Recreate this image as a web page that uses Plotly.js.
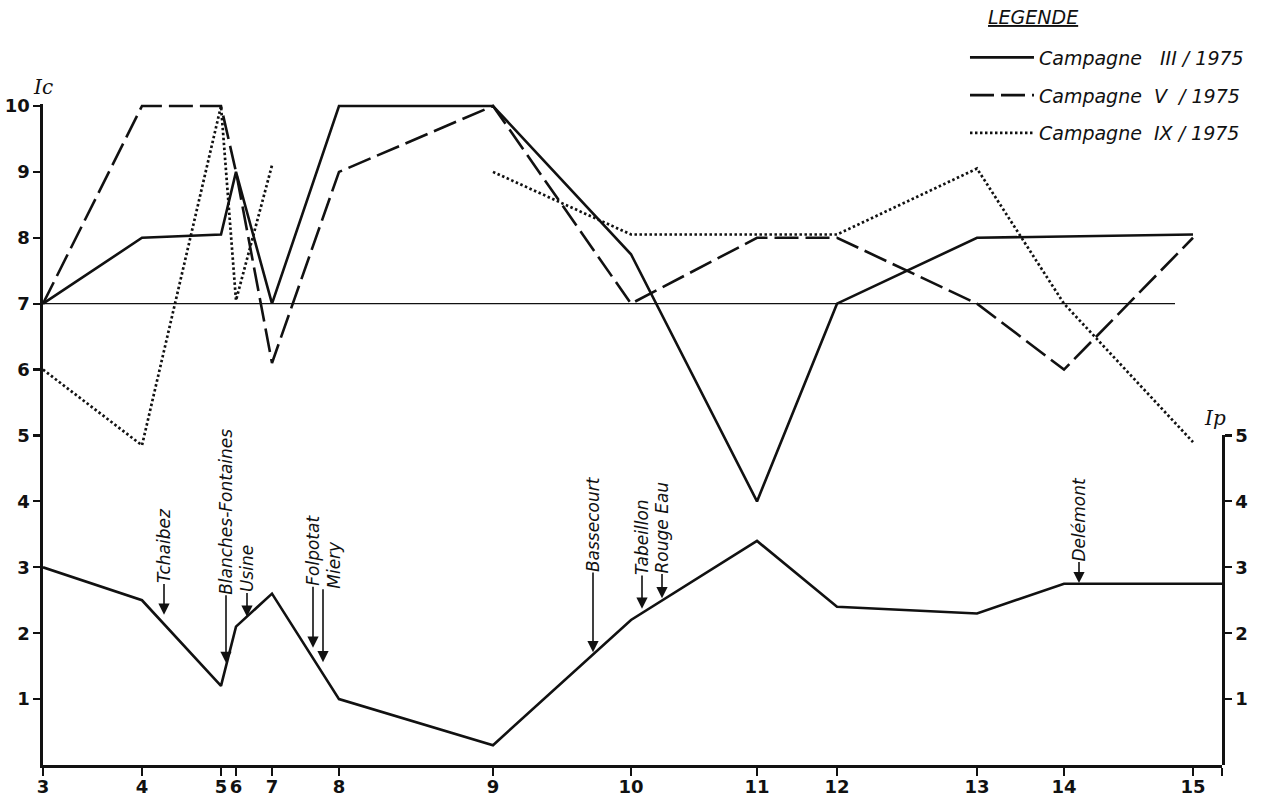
<!DOCTYPE html>
<html><head><meta charset="utf-8">
<script src="https://cdn.plot.ly/plotly-3.0.1.min.js"></script>
<style>html,body{margin:0;padding:0;background:#fff}#chart{width:1261px;height:803px}</style>
</head><body><div id="chart"></div>
<script>
// Stations along the river (label) and their position along the course
const stations = ['3','4','5','6','7','8','9','10','11','12','13','14','15'];
const stationDist = [0, 9.9, 17.8, 19.3, 22.9, 29.6, 45.0, 58.8, 71.4, 79.4, 93.4, 102.1, 115.0];
const axisEnd = 117.9;

// Ic values per campaign
const icIII = [7, 8, 8.05, 9.0, 7, 10, 10, 7.75, 4.0, 7.0, 8.0, 8.02, 8.05];
const icV   = [7, 10, 10, 9.0, 6.1, 9.0, 10, 7.0, 8.0, 8.0, 7.0, 6.0, 8.0];
const icIX  = [6.0, 4.85, 10, 7.05, 9.1, null, 9.0, 8.05, 8.05, 8.05, 9.05, 7.0, 4.9];

// Ip values
const ipValues = [3.0, 2.5, 1.2, 2.1, 2.6, 1.0, 0.3, 2.2, 3.4, 2.4, 2.3, 2.75, 2.75];

const seriesNames = ['Campagne&nbsp;&nbsp; III / 1975', 'Campagne&nbsp; V&nbsp; / 1975', 'Campagne&nbsp; IX / 1975'];

// Locality markers along the river
const siteNames = ['Tchaibez','Blanches-Fontaines','Usine','Folpotat','Miery','Bassecourt','Tabeillon','Rouge Eau','Delémont'];
const siteDist  = [12.1, 18.3, 20.4, 27.0, 28.0, 55.0, 59.9, 61.9, 103.6];
const siteIp    = [2.28, 1.55, 2.25, 1.78, 1.56, 1.71, 2.37, 2.53, 2.76];

const refLevel = 7;
const refLineEnd = 113.2;
const icTicks = [1,2,3,4,5,6,7,8,9,10];
const ipTicks = [1,2,3,4,5];

// ---- styling ----
const INK = '#111';
const arrowLen = [30, 66, 22, 60, 72, 79, 32, 23, 20];
const textLead = ['', '', '', '', '&nbsp;<br>', '', '', '', ''];
const tickFont = {family: 'DejaVu Sans', size: 18, weight: 'bold', color: INK};
const itFont = {family: 'DejaVu Sans', size: 17, style: 'italic', color: INK};

const measure = document.createElement('canvas').getContext('2d');
measure.font = 'italic 17px "DejaVu Sans"';

const traces = [
  {x: stationDist, y: icIII, name: seriesNames[0], legendgroup: 'a', mode: 'lines',
   line: {color: INK, width: 2.6}, connectgaps: false},
  {x: stationDist, y: icV, name: seriesNames[1], legendgroup: 'b', mode: 'lines',
   line: {color: INK, width: 2.6, dash: '24px,7px'}, connectgaps: false},
  {x: stationDist, y: icIX, name: seriesNames[2], legendgroup: 'c', mode: 'lines',
   line: {color: INK, width: 2.7, dash: '2.5px,2.5px'}, connectgaps: false},
  {x: stationDist.concat([axisEnd]), y: ipValues.concat([ipValues[ipValues.length-1]]),
   yaxis: 'y2', name: 'Ip', mode: 'lines', showlegend: false,
   line: {color: INK, width: 2.6}}
];

const annotations = siteNames.map((n, i) => {
  const w = measure.measureText(n).width;
  return {
    x: siteDist[i], y: siteIp[i], xref: 'x', yref: 'y2', text: textLead[i] + n, textangle: -90,
    showarrow: true, arrowhead: 2, arrowsize: 1.4, arrowwidth: 1.6, arrowcolor: INK,
    ax: 0, ay: -(arrowLen[i] + w / 2 + 2), borderpad: 0, font: itFont
  };
});
annotations.push({xref: 'paper', yref: 'paper', x: 0, y: 1, yshift: 17, xanchor: 'center', yanchor: 'middle',
  text: 'Ic', showarrow: false, font: {family: 'DejaVu Serif', size: 20, style: 'italic', color: INK}});
annotations.push({xref: 'paper', yref: 'paper', x: 1, y: 5.3/10.03, xshift: -7, yshift: -2, xanchor: 'center', yanchor: 'middle',
  text: 'Ip', showarrow: false, font: {family: 'DejaVu Serif', size: 20, style: 'italic', color: INK}});
annotations.push({xref: 'paper', yref: 'paper', x: 0.8, y: 1.131, xanchor: 'left', yanchor: 'middle',
  text: '<u>LEGENDE</u>', showarrow: false, font: {family: 'DejaVu Sans', size: 19, style: 'italic', color: INK}});

const layout = {
  width: 1261, height: 803,
  margin: {l: 43, r: 39, t: 104, b: 38, pad: 0},
  paper_bgcolor: '#fff', plot_bgcolor: 'rgba(0,0,0,0)',
  showlegend: true,
  legend: {x: 0.782, xanchor: 'left', y: 1.099, yanchor: 'top', bgcolor: 'rgba(0,0,0,0)',
    traceorder: 'grouped', tracegroupgap: 10, itemwidth: 64,
    font: {family: 'DejaVu Sans', size: 19, style: 'italic', color: INK}},
  xaxis: {range: [0, axisEnd], tickmode: 'array', tickvals: stationDist.concat([axisEnd]),
    ticktext: stations.concat(['']), tickangle: 0, ticks: 'outside', ticklen: 8, tickwidth: 2.2,
    tickcolor: INK, showline: true, linewidth: 2.6, linecolor: INK, showgrid: false, zeroline: false,
    tickfont: tickFont, ticklabelstandoff: -4, fixedrange: true},
  yaxis: {range: [0, 10.03], tickmode: 'array', tickvals: icTicks, ticks: 'outside', ticklen: 7,
    tickwidth: 2.2, tickcolor: INK, showline: true, linewidth: 2.6, linecolor: INK, showgrid: false,
    zeroline: false, tickfont: tickFont, fixedrange: true},
  yaxis2: {domain: [0, 5/10.03], range: [0, 5], anchor: 'x', side: 'right', tickmode: 'array',
    tickvals: ipTicks, ticks: 'outside', ticklen: 7, tickwidth: 2.2, tickcolor: INK, showline: true,
    linewidth: 2.6, linecolor: INK, showgrid: false, zeroline: false, tickfont: tickFont, fixedrange: true},
  shapes: [{type: 'line', xref: 'x', yref: 'y', x0: stationDist[0], x1: refLineEnd, y0: refLevel, y1: refLevel,
    line: {color: INK, width: 1.3}, layer: 'below'}],
  annotations: annotations
};

Plotly.newPlot('chart', traces, layout, {displayModeBar: false, staticPlot: true});
</script>
</body></html>
